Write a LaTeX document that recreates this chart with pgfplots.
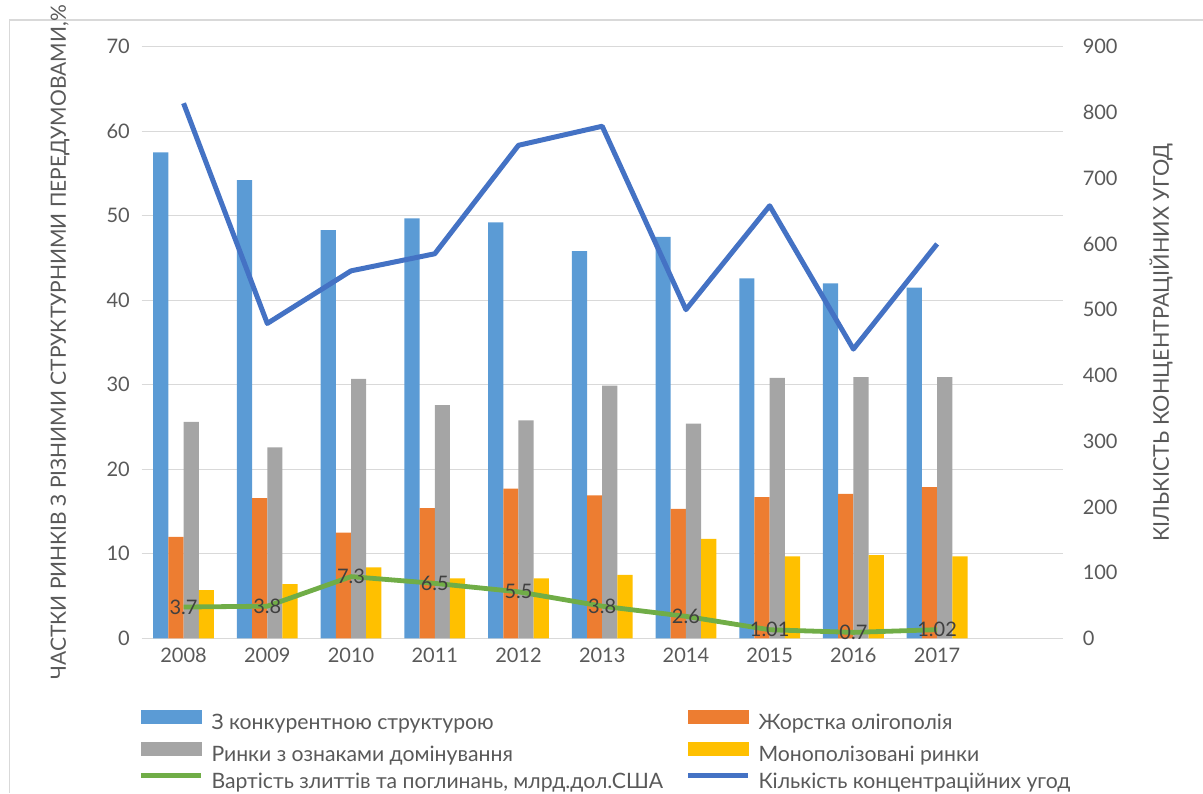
\documentclass[border=0pt]{standalone}
\usepackage{pgfplots}
\pgfplotsset{compat=1.18}
\usepackage{fontspec}
\setmainfont{Lato}
\definecolor{cA}{HTML}{5B9BD5}
\definecolor{cB}{HTML}{ED7D31}
\definecolor{cC}{HTML}{A5A5A5}
\definecolor{cD}{HTML}{FFC000}
\definecolor{cE}{HTML}{70AD47}
\definecolor{cF}{HTML}{4472C4}
\definecolor{cGrid}{HTML}{D9D9D9}
\definecolor{cT}{HTML}{595959}
\definecolor{cLab}{HTML}{404040}
\pgfplotsset{
  barleg/.style={legend image code/.code={\fill[#1] (0pt,0.3pt) rectangle (30pt,7pt);}},
  lineleg/.style={legend image code/.code={\draw[#1,line width=2.4pt] (0pt,3.65pt) -- (30pt,3.65pt);}},
}
\begin{document}
\begin{tikzpicture}
\useasboundingbox (0,0) rectangle (601.5pt,396.5pt);
\draw[cGrid, line width=0.6pt] (4.65pt,0pt) -- (4.65pt,386.5pt) -- (601.5pt,386.5pt);
\begin{axis}[
  at={(70.85pt,77.35pt)}, anchor=south west,
  scale only axis, width=460.5pt, height=295.8pt,
  xmin=-0.5, xmax=10.5, ymin=0, ymax=70,
  ytick={0,10,...,70},
  xtick={0,...,9},
  xticklabels={2008,2009,2010,2011,2012,2013,2014,2015,2016,2017},
  ymajorgrids, grid style={cGrid, line width=0.6pt},
  axis line style={draw=none},
  major tick length=0pt,
  tick label style={font=\fontsize{10}{12}\selectfont, text=cT},
  /pgf/number format/assume math mode=true,
  yticklabel style={xshift=-2.4pt},
  xticklabel style={yshift=-1.5pt},
  ylabel={ЧАСТКИ РИНКІВ З РІЗНИМИ СТРУКТУРНИМИ ПЕРЕДУМОВАМИ,\%},
  ylabel style={at={(rel axis cs:0,0.5)}, anchor=center, yshift=40.85pt, font=\fontsize{10.5}{12}\selectfont, text=cT},
  clip=false,
]
\addplot[ybar, bar width=7.6pt, bar shift=-11.4pt, fill=cA, draw=none] coordinates {
  (0,57.5) (1,54.2) (2,48.3) (3,49.7) (4,49.2) (5,45.8) (6,47.5) (7,42.6) (8,42.0) (9,41.5)};
\addplot[ybar, bar width=7.6pt, bar shift=-3.8pt, fill=cB, draw=none] coordinates {
  (0,12.0) (1,16.6) (2,12.5) (3,15.4) (4,17.7) (5,16.9) (6,15.3) (7,16.7) (8,17.1) (9,17.9)};
\addplot[ybar, bar width=7.6pt, bar shift=3.8pt, fill=cC, draw=none] coordinates {
  (0,25.6) (1,22.6) (2,30.7) (3,27.6) (4,25.8) (5,29.9) (6,25.4) (7,30.8) (8,30.9) (9,30.9)};
\addplot[ybar, bar width=7.6pt, bar shift=11.4pt, fill=cD, draw=none] coordinates {
  (0,5.7) (1,6.4) (2,8.4) (3,7.1) (4,7.1) (5,7.5) (6,11.75) (7,9.7) (8,9.85) (9,9.7)};
\addplot[sharp plot, cE, line width=2.4pt, line join=round, mark=none,
  nodes near coords, point meta=explicit symbolic,
  every node near coord/.style={anchor=center, font=\fontsize{10}{12}\selectfont, text=cLab}]
  coordinates {
  (0,3.7)[3.7] (1,3.8)[3.8] (2,7.3)[7.3] (3,6.5)[6.5] (4,5.5)[5.5] (5,3.8)[3.8]
  (6,2.6)[2.6] (7,1.01)[1.01] (8,0.7)[0.7] (9,1.02)[1.02]};
\end{axis}
\begin{axis}[
  at={(70.85pt,77.35pt)}, anchor=south west,
  scale only axis, width=460.5pt, height=295.8pt,
  xmin=-0.5, xmax=10.5, ymin=0, ymax=900,
  axis y line*=right, hide x axis,
  axis line style={draw=none},
  major tick length=0pt,
  ytick={0,100,...,900},
  tick label style={font=\fontsize{10}{12}\selectfont, text=cT},
  /pgf/number format/assume math mode=true,
  yticklabel style={xshift=6.5pt},
  ylabel={КІЛЬКІСТЬ КОНЦЕНТРАЦІЙНИХ УГОД},
  ylabel style={at={(rel axis cs:1,0.5)}, anchor=center, yshift=-49.15pt, font=\fontsize{10.8}{12}\selectfont, text=cT},
  clip=false,
  legend columns=2,
  legend cell align=left,
  legend style={at={(rel axis cs:0,0)}, anchor=north west, yshift=-35.85pt, xshift=-1.5pt,
    draw=none, fill=none, inner sep=0pt, outer sep=0pt, row sep=3.8pt,
    font=\fontsize{10.6}{12}\selectfont, text=cT,
    nodes={inner sep=0pt, text height=7.5pt, text depth=2pt},
    /tikz/every odd column/.style={column sep=4pt},
    /tikz/every even column/.style={column sep=11.3pt}},
]
\addlegendimage{barleg=cA}
\addlegendimage{barleg=cB}
\addlegendimage{barleg=cC}
\addlegendimage{barleg=cD}
\addlegendimage{lineleg=cE}
\addlegendimage{lineleg=cF}
\addplot[sharp plot, cF, line width=2.5pt, line join=round, mark=none] coordinates {
  (0,814) (1,479) (2,559) (3,585) (4,750) (5,779) (6,500) (7,658) (8,440) (9,600)};
\legend{З конкурентною структурою, Жорстка олігополія, Ринки з ознаками домінування, Монополізовані ринки, {Вартість злиттів та поглинань, млрд.дол.США}, Кількість концентраційних угод}
\end{axis}
\end{tikzpicture}
\end{document}
